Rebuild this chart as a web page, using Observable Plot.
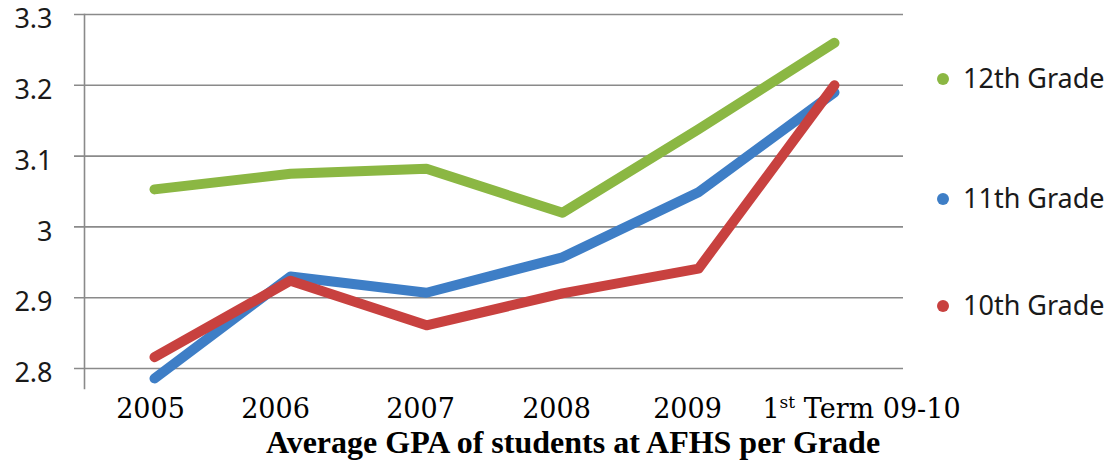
<!DOCTYPE html>
<html>
<head>
<meta charset="utf-8">
<script src="https://cdn.jsdelivr.net/npm/d3@7"></script>
<script src="https://cdn.jsdelivr.net/npm/@observablehq/plot@0.6"></script>
<style>
  html, body { margin: 0; padding: 0; background: #fff; }
  #wrap { position: relative; width: 1116px; height: 461px; overflow: hidden; }
  #title { position: absolute; left: 0; width: 1116px; top: 426px; text-align: center;
           font-family: "Liberation Serif", serif; font-weight: bold; font-size: 32px; color: #000;
           line-height: 32px; padding-left: 30px; box-sizing: border-box; white-space: nowrap; }
  .leg { position: absolute; left: 937px; font-family: "Noto Sans", sans-serif; font-size: 27px;
         color: #1a1a1a; line-height: 30px; white-space: nowrap; }
  .leg .dot { display: inline-block; width: 12px; height: 12px; border-radius: 50%;
              margin-right: 14px; vertical-align: 3px; }
</style>
</head>
<body>
<div id="wrap"><div id="chart"></div><div id="legend"></div><div id="title"></div></div>
<script>
const periods = ["2005", "2006", "2007", "2008", "2009", "1st Term 09-10"];
const grade12 = [3.053, 3.075, 3.082, 3.020, 3.138, 3.260];
const grade11 = [2.786, 2.930, 2.907, 2.957, 3.049, 3.190];
const grade10 = [2.816, 2.924, 2.861, 2.906, 2.941, 3.200];
const grades = ["12th Grade", "11th Grade", "10th Grade"];
const colors = ["#8BB743", "#3E7EC6", "#C8413F"];
const yTicks = [2.8, 2.9, 3.0, 3.1, 3.2, 3.3];
const titleText = "Average GPA of students at AFHS per Grade";

// layout only: horizontal nudges of the x tick labels, as in the original text boxes
const labelNudge = [-4, -15, -6, -6, -11, 27];

const series = [grade12, grade11, grade10];
const rows = grades.map((g, i) => periods.map((p, j) => ({grade: g, period: p, gpa: series[i][j]})));

const chart = Plot.plot({
  width: 1116,
  height: 426,
  marginLeft: 84,
  marginRight: 213,
  marginTop: 14,
  marginBottom: 38,
  style: {overflow: "visible"},
  x: {type: "point", domain: periods, padding: 0.5},
  y: {domain: [2.77175, 3.3]},
  color: {domain: grades, range: colors},
  marks: [
    Plot.ruleY(yTicks, {stroke: "#8a8a8a", strokeWidth: 1.6, insetLeft: -10}),
    Plot.frame({anchor: "left", stroke: "#8a8a8a", strokeWidth: 1.6}),
    Plot.axisY(yTicks, {tickSize: 0, tickPadding: 32, fontSize: 27, fontFamily: "Noto Sans", fill: "#1a1a1a",
      dy: 5, tickFormat: d => d === 3 ? "3" : d3.format(".1f")(d), label: null}),
    Plot.axisX(periods, {tickSize: 0, tickPadding: 10, fontSize: 27, fontFamily: "DejaVu Serif", fill: "#000", label: null}),
    ...rows.map(r => Plot.line(r, {x: "period", y: "gpa", stroke: "grade", strokeWidth: 10,
      strokeLinecap: "round", strokeLinejoin: "round"}))
  ]
});
document.getElementById("chart").appendChild(chart);

const ns = "http://www.w3.org/2000/svg";
chart.querySelectorAll("text").forEach(t => {
  const k = periods.indexOf(t.textContent);
  if (k < 0) return;
  t.setAttribute("dx", labelNudge[k]);
  if (t.textContent === "1st Term 09-10") {
    t.textContent = "";
    t.appendChild(document.createTextNode("1"));
    const s = document.createElementNS(ns, "tspan");
    s.setAttribute("font-size", "17");
    s.setAttribute("dy", "-10");
    s.textContent = "st";
    t.appendChild(s);
    const r = document.createElementNS(ns, "tspan");
    r.setAttribute("dy", "10");
    r.textContent = " Term 09-10";
    t.appendChild(r);
  }
});

// legend
const legendTops = [63, 183, 290];
const legend = document.getElementById("legend");
grades.forEach((g, i) => {
  const d = document.createElement("div");
  d.className = "leg";
  d.style.top = legendTops[i] + "px";
  d.innerHTML = `<span class="dot" style="background:${colors[i]}"></span>${g}`;
  legend.appendChild(d);
});
document.getElementById("title").textContent = titleText;
</script>
</body>
</html>
